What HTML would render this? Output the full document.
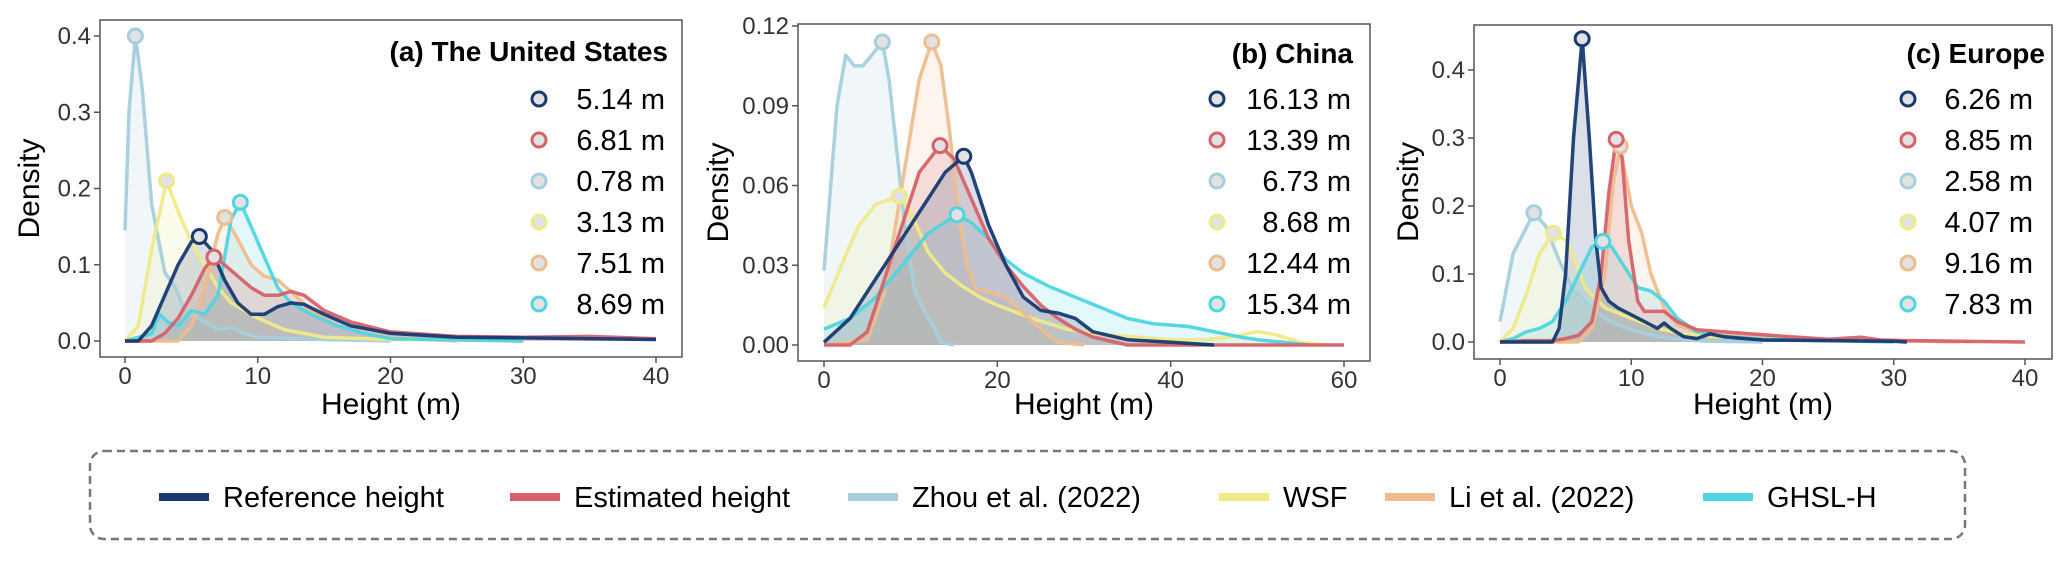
<!DOCTYPE html>
<html><head><meta charset="utf-8"><style>
body{margin:0;background:#fff;width:2067px;height:559px;overflow:hidden;font-family:"Liberation Sans",sans-serif}
svg text{font-family:"Liberation Sans",sans-serif}
</style></head><body>
<svg id="chart" width="2067" height="559" viewBox="0 0 2067 559" xmlns="http://www.w3.org/2000/svg"></svg>
<script>
const seriesNames=["Reference height","Estimated height","Zhou et al. (2022)","WSF","Li et al. (2022)","GHSL-H"];
const panelTitles=["(a) The United States","(b) China","(c) Europe"];
const meanLabelsA=["5.14 m","6.81 m","0.78 m","3.13 m","7.51 m","8.69 m"];
const meanLabelsB=["16.13 m","13.39 m","6.73 m","8.68 m","12.44 m","15.34 m"];
const meanLabelsC=["6.26 m","8.85 m","2.58 m","4.07 m","9.16 m","7.83 m"];
const xTicksA=[0,10,20,30,40];const yTicksA=[0,0.1,0.2,0.3,0.4];const yTickLabelsA=["0.0","0.1","0.2","0.3","0.4"];
const xTicksB=[0,20,40,60];const yTicksB=[0,0.03,0.06,0.09,0.12];const yTickLabelsB=["0.00","0.03","0.06","0.09","0.12"];
const xTicksC=[0,10,20,30,40];const yTicksC=[0,0.1,0.2,0.3,0.4];const yTickLabelsC=["0.0","0.1","0.2","0.3","0.4"];
const peaksA=[[5.6,0.137],[6.7,0.11],[0.78,0.4],[3.13,0.21],[7.51,0.162],[8.69,0.182]];
const peaksB=[[16.13,0.071],[13.39,0.075],[6.73,0.114],[8.68,0.056],[12.44,0.114],[15.34,0.049]];
const peaksC=[[6.26,0.446],[8.85,0.298],[2.58,0.19],[4.07,0.16],[9.16,0.288],[7.83,0.148]];
const refA=[0,0,1,0,2,0.02,3,0.06,4,0.1,5,0.13,5.6,0.137,6.5,0.12,7.5,0.08,8.5,0.05,9.5,0.035,10.5,0.035,11.5,0.045,12.5,0.05,13.5,0.048,15,0.035,17,0.02,20,0.01,25,0.005,30,0.004,40,0.002];
const estA=[0,0,2,0,3,0.01,4,0.03,5,0.06,6,0.095,6.7,0.11,7.5,0.1,8.5,0.085,9.5,0.07,10.5,0.06,11.5,0.06,12.5,0.065,13.5,0.06,15,0.04,17,0.025,20,0.012,25,0.006,30,0.005,35,0.006,40,0.003];
const zhouA=[0,0.145,0.3,0.3,0.78,0.4,1.3,0.33,2,0.18,3,0.09,3.8,0.07,4.5,0.04,5.5,0.03,7,0.015,8,0.018,9,0.01,10,0.005,15,0.002,20,0];
const wsfA=[0,0,1,0.02,2,0.12,3.13,0.21,4,0.17,5,0.13,6,0.1,7,0.07,8,0.05,9,0.04,10,0.03,12,0.015,15,0.005,20,0.002,30,0];
const liA=[0,0,4,0,5,0.02,6,0.07,7,0.14,7.51,0.162,8.3,0.14,9.5,0.1,10.5,0.085,11.5,0.08,12.5,0.065,14,0.04,16,0.02,18,0.01,20,0.005,25,0];
const ghslA=[0,0,2,0.01,2.6,0.035,3.2,0.025,4,0.02,5,0.04,6,0.035,7,0.06,8,0.16,8.69,0.182,9.5,0.15,10.5,0.11,11.5,0.07,12.5,0.05,14,0.035,16,0.02,18,0.01,20,0.003,30,0];
const refB=[0,0.001,3,0.01,6,0.025,9,0.04,12,0.055,14,0.065,16.13,0.071,17,0.065,19,0.045,21,0.03,23,0.018,25,0.013,27,0.012,29,0.01,31,0.005,35,0.002,40,0.001,45,0];
const estB=[0,0,3,0,5,0.005,7,0.025,9,0.045,11,0.065,13.39,0.075,15,0.07,17,0.055,19,0.04,21,0.03,23,0.022,25,0.015,27,0.01,29,0.006,31,0.003,35,0,60,0];
const zhouB=[0,0.028,1.5,0.09,2.5,0.109,3.5,0.105,4.5,0.105,5.5,0.109,6.73,0.114,7.5,0.1,8.5,0.07,9.5,0.04,10.5,0.02,11.5,0.013,12.5,0.008,13.5,0.001,15,0];
const wsfB=[0,0.014,2,0.03,4,0.045,6,0.053,8.68,0.056,10,0.05,12,0.035,14,0.027,16,0.022,18,0.018,20,0.015,24,0.01,28,0.006,32,0.004,36,0.003,40,0.002,44,0.002,47,0.003,50,0.005,52,0.004,55,0.001,58,0];
const liB=[0,0,5,0.002,7,0.02,9,0.06,11,0.1,12.44,0.114,13.5,0.105,14.5,0.08,15.5,0.05,16.5,0.03,17.5,0.021,19,0.02,21,0.018,23,0.012,25,0.006,27,0.001,30,0];
const ghslB=[0,0.006,3,0.01,6,0.018,9,0.03,12,0.042,15.34,0.049,17,0.046,19,0.04,21,0.032,23,0.027,26,0.022,29,0.018,32,0.014,35,0.01,38,0.008,42,0.007,45,0.005,48,0.003,50,0.002,53,0.001,56,0];
const refC=[0,0,4,0,4.5,0.02,5,0.1,5.6,0.3,6.26,0.446,6.8,0.3,7.3,0.15,7.7,0.08,8.3,0.06,9,0.05,10,0.04,11,0.03,12,0.02,12.5,0.028,13,0.02,14,0.008,15,0.005,16,0.012,17,0.008,18,0.006,20,0.003,25,0.002,30,0.001,31,0];
const estC=[0,0,2,0.002,4,0.002,5,0.005,6,0.01,7,0.03,7.7,0.1,8.3,0.22,8.85,0.298,9.3,0.27,9.8,0.15,10.5,0.06,11,0.045,12.5,0.045,13.5,0.03,15,0.018,17,0.015,19,0.012,22,0.008,25,0.004,27.5,0.007,29,0.003,31,0.002,40,0];
const zhouC=[0,0.03,1,0.13,2.58,0.19,3.5,0.17,4.5,0.12,5.5,0.08,7,0.05,8,0.035,9,0.025,10,0.018,12,0.008,14,0.003,16,0.001,20,0];
const wsfC=[0,0,1,0.02,2,0.07,3,0.13,4.07,0.16,5,0.15,5.5,0.13,6.5,0.08,8,0.05,10,0.035,12,0.02,14,0.012,16,0.008,20,0.005,25,0.003,30,0.002,35,0.001,36,0];
const liC=[0,0,6,0,7,0.02,8,0.1,8.6,0.23,9.16,0.288,10,0.2,10.8,0.16,11.5,0.1,12.5,0.05,13.5,0.025,15,0.015,17,0.01,20,0.007,25,0.004,30,0.002,35,0];
const ghslC=[0,0,1,0.005,2,0.015,3,0.02,4,0.03,5,0.06,6,0.1,7,0.14,7.83,0.148,8.5,0.14,9.5,0.11,10.5,0.08,11.5,0.075,12.5,0.06,13.5,0.035,15,0.015,17,0.008,20,0.004,25,0.002,30,0];

const colors=["#173a72","#d5626a","#a5cfdc","#eeea88","#eebd8e","#4ed5e0"];
const NS="http://www.w3.org/2000/svg";
const svg=document.getElementById('chart');
function mk(tag,attrs,parent){const e=document.createElementNS(NS,tag);for(const k in attrs)e.setAttribute(k,attrs[k]);(parent||svg).appendChild(e);return e;}

const panels=[
 {box:[100,20,682,357],x0:125,x1:656,xmax:40,y0:341,yTop:36,ymax:0.4,xt:xTicksA,yt:yTicksA,ytl:yTickLabelsA,curves:[refA,estA,zhouA,wsfA,liA,ghslA],peaks:peaksA,labels:meanLabelsA,title:panelTitles[0],tx:668,ty:61,lcx:539,ltx:665,dx:29,name:'panel-us'},
 {box:[798,24,1370,361],x0:824,x1:1344,xmax:60,y0:345,yTop:26,ymax:0.12,xt:xTicksB,yt:yTicksB,ytl:yTickLabelsB,curves:[refB,estB,zhouB,wsfB,liB,ghslB],peaks:peaksB,labels:meanLabelsB,title:panelTitles[1],tx:1353,ty:63,lcx:1217,ltx:1351,dx:718,name:'panel-china'},
 {box:[1474,25,2052,359],x0:1500,x1:2025,xmax:40,y0:342,yTop:70,ymax:0.4,xt:xTicksC,yt:yTicksC,ytl:yTickLabelsC,curves:[refC,estC,zhouC,wsfC,liC,ghslC],peaks:peaksC,labels:meanLabelsC,title:panelTitles[2],tx:2045,ty:63,lcx:1908,ltx:2033,dx:1408,name:'panel-europe'}
];
const order=[2,3,4,5,1,0];
panels.forEach(p=>{
 const g=mk('g',{});
 
 
 const X=v=>p.x0+(v/p.xmax)*(p.x1-p.x0);
 const Y=v=>p.y0-(v/p.ymax)*(p.y0-p.yTop);
 const [bx0,by0,bx1,by1]=p.box;
 order.forEach(i=>{
  const c=p.curves[i];let d='';
  for(let k=0;k<c.length;k+=2)d+=(k?'L':'M')+X(c[k]).toFixed(1)+','+Y(c[k+1]).toFixed(1);
  const area=mk('path',{d:d+'L'+X(c[c.length-2]).toFixed(1)+','+Y(0)+'L'+X(c[0]).toFixed(1)+','+Y(0)+'Z',fill:colors[i],'fill-opacity':0.16,stroke:'none'},g);
  
  
 });
 order.forEach(i=>{
  const c=p.curves[i];let d='';
  for(let k=0;k<c.length;k+=2)d+=(k?'L':'M')+X(c[k]).toFixed(1)+','+Y(c[k+1]).toFixed(1);
  const ln=mk('path',{d:d,fill:'none',stroke:colors[i],'stroke-width':3.5,'stroke-linejoin':'round','stroke-opacity':0.95},g);
  
  
 });
 order.forEach(i=>{
  const pk=p.peaks[i];
  const m=mk('circle',{cx:X(pk[0]),cy:Y(pk[1]),r:7,fill:'#e2e2e2',stroke:colors[i],'stroke-width':3},g);
  
  
 });
 const box=mk('rect',{x:bx0,y:by0,width:bx1-bx0,height:by1-by0,fill:'none',stroke:'#555','stroke-width':1.5},g);
 
 
 p.xt.forEach(v=>{
  mk('line',{x1:X(v),x2:X(v),y1:by1,y2:by1+6,stroke:'#555','stroke-width':1.5},g);
  const t=mk('text',{x:X(v),y:by1+27,'text-anchor':'middle','font-size':24,fill:'#333'},g);t.textContent=v;
  
  
 });
 p.yt.forEach((v,j)=>{
  mk('line',{x1:bx0-6,x2:bx0,y1:Y(v),y2:Y(v),stroke:'#555','stroke-width':1.5},g);
  const t=mk('text',{x:bx0-9,y:Y(v)+8,'text-anchor':'end','font-size':24,fill:'#333'},g);t.textContent=p.ytl[j];
  
  
 });
 const xt=mk('text',{x:(bx0+bx1)/2,y:414,'text-anchor':'middle','font-size':30,fill:'#000'},g);xt.textContent='Height (m)';
 
 
 const cy=(by0+by1)/2;
 const yt=mk('text',{x:p.dx+10,y:cy,'text-anchor':'middle','font-size':30,fill:'#000',transform:`rotate(-90 ${p.dx+10} ${cy})`},g);yt.textContent='Density';
 
 
 const tt=mk('text',{x:p.tx,y:p.ty,'text-anchor':'end','font-size':28,'font-weight':'bold',fill:'#000'},g);tt.textContent=p.title;
 
 
 p.labels.forEach((l,i)=>{
  const yy=99+i*41;
  const c=mk('circle',{cx:p.lcx,cy:yy,r:7,fill:'#e2e2e2',stroke:colors[i],'stroke-width':3},g);
  
  
  const t=mk('text',{x:p.ltx,y:yy+10,'text-anchor':'end','font-size':29,fill:'#000'},g);t.textContent=l;
  
  
 });
});
const lg=mk('g',{});


const lb=mk('rect',{x:90,y:451,width:1875,height:88,rx:14,fill:'none',stroke:'#777','stroke-width':2.5,'stroke-dasharray':'8,5'},lg);


const swX=[159,510,848,1219,1385,1703];
seriesNames.forEach((n,i)=>{
 const s=mk('line',{x1:swX[i],x2:swX[i]+50,y1:497,y2:497,stroke:colors[i],'stroke-width':8},lg);
 
 
 const t=mk('text',{x:swX[i]+64,y:507,'font-size':29,fill:'#000'},lg);t.textContent=n;
 
 
});
</script>
</body></html>
